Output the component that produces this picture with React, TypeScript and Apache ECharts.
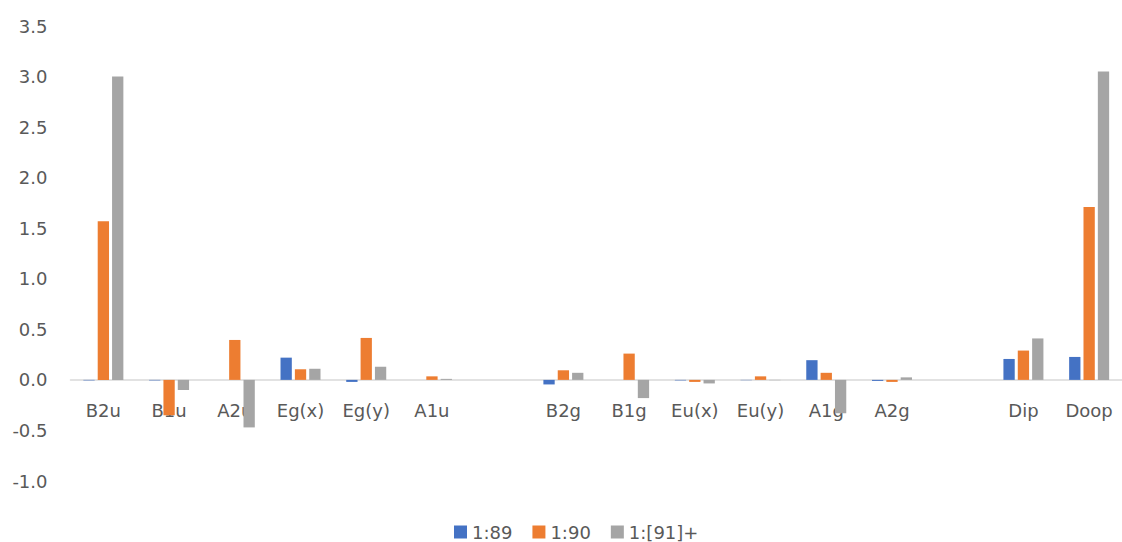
import React, { useEffect, useRef } from "react";
import * as echarts from "echarts";

// Symmetry labels; empty strings are spacer slots between the groups
const categories = [
  "B2u", "B1u", "A2u", "Eg(x)", "Eg(y)", "A1u", "",
  "B2g", "B1g", "Eu(x)", "Eu(y)", "A1g", "A2g", "",
  "Dip", "Doop",
];

const seriesNames = ["1:89", "1:90", "1:[91]+"];

const values89 = [
  -0.005, -0.005, 0, 0.22, -0.02, 0, null,
  -0.045, 0, -0.005, -0.003, 0.195, -0.01, null,
  0.207, 0.227,
];
const values90 = [
  1.57, -0.35, 0.395, 0.105, 0.415, 0.035, null,
  0.095, 0.26, -0.02, 0.035, 0.07, -0.02, null,
  0.29, 1.71,
];
const values91 = [
  3.0, -0.1, -0.47, 0.11, 0.13, 0.01, null,
  0.07, -0.18, -0.035, -0.003, -0.33, 0.025, null,
  0.41, 3.05,
];

const yMin = -1;
const yMax = 3.5;

const colors = ["#4472C4", "#ED7D31", "#A5A5A5"];
const textColor = "#595959";
const fontFamily = "'DejaVu Sans', sans-serif";

const gridTop = 26;
const gridBottom = 61;
const chartHeight = 542;

export default function App() {
  const ref = useRef<HTMLDivElement>(null);

  useEffect(() => {
    if (!ref.current) return;
    const chart = echarts.init(ref.current, undefined, { renderer: "svg" });
    const allValues = [values89, values90, values91];
    // lift the category axis (line and labels) up to the zero level
    const plotHeight = chartHeight - gridTop - gridBottom;
    const zeroLift = (plotHeight * (0 - yMin)) / (yMax - yMin);
    chart.setOption({
      animation: false,
      color: colors,
      grid: { left: 70.5, right: -4.5, top: gridTop, bottom: gridBottom, containLabel: false },
      legend: {
        data: seriesNames,
        left: 454,
        top: 523,
        padding: 0,
        itemWidth: 13,
        itemHeight: 13,
        itemGap: 20,
        icon: "rect",
        textStyle: { color: textColor, fontSize: 18, fontFamily, lineHeight: 18 },
      },
      xAxis: {
        type: "category",
        data: categories,
        offset: -zeroLift,
        axisLine: { onZero: false, lineStyle: { color: "#D9D9D9", width: 1.5 } },
        axisTick: { show: false },
        axisLabel: {
          color: textColor,
          fontSize: 18,
          fontFamily,
          margin: 22,
          interval: 0,
        },
      },
      yAxis: {
        type: "value",
        min: yMin,
        max: yMax,
        interval: 0.5,
        axisLine: { show: false },
        axisTick: { show: false },
        splitLine: { show: false },
        axisLabel: {
          color: textColor,
          fontSize: 18,
          fontFamily,
          margin: 23,
          formatter: (v: number) => v.toFixed(1),
        },
      },
      series: seriesNames.map((name, i) => ({
        name,
        type: "bar",
        data: allValues[i],
        barWidth: 11.3,
        barGap: "27%",
        itemStyle: { color: colors[i] },
      })),
    });
    return () => chart.dispose();
  }, []);

  return (
    <div
      ref={ref}
      style={{ position: "absolute", left: 0, top: 0, width: 1122, height: chartHeight }}
    />
  );
}
